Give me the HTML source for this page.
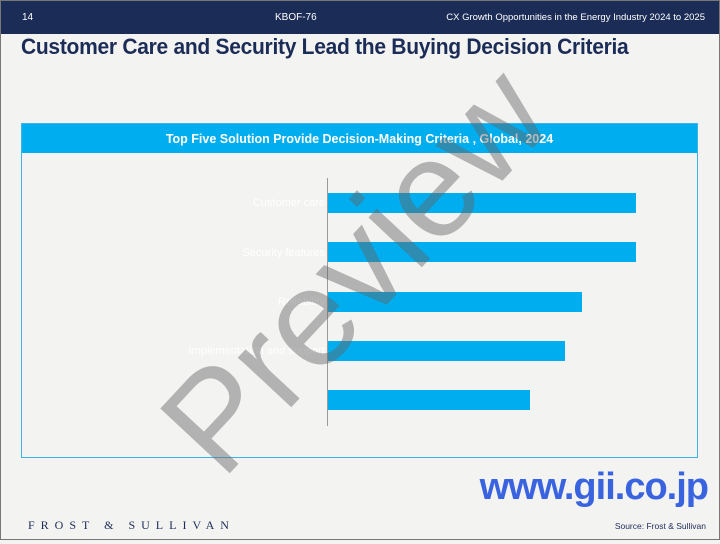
<!DOCTYPE html>
<html><head><style>
body{margin:0;width:720px;height:540px;overflow:hidden;background:#f3f3f2;font-family:"Liberation Sans",sans-serif;position:relative}
.frame{position:absolute;left:0;top:0;width:718px;height:538px;border:1px solid #777;}
.hdr{position:absolute;left:1px;top:1px;width:718px;height:33px;background:#1b2c56;color:#fff;font-size:10px}
.hdr span{position:absolute;top:11px}
h1{position:absolute;left:21px;top:34px;margin:0;font-size:22px;color:#1b2c56;font-weight:bold;letter-spacing:-0.3px;transform:scaleX(0.955);transform-origin:left}
.box{position:absolute;left:21px;top:123px;width:675px;height:333px;border:1px solid #3ab4ea}
.bh{height:29px;background:#00aeef;color:#fff;font-size:12.5px;font-weight:bold;text-align:center;line-height:30px}
.bar{position:absolute;left:328px;height:20px;background:#00aeef}
.lbl{position:absolute;right:395px;color:#fff;font-size:11px}
.wm{position:absolute;left:55px;top:190px;width:600px;height:160px;line-height:160px;font-size:138px;color:rgba(100,100,100,0.45);transform:rotate(-47deg);transform-origin:center;text-align:center}
</style></head><body>
<div class="frame"></div>
<div class="hdr"><span style="left:21px">14</span><span style="left:274px">KBOF-76</span><span style="right:14px;font-size:9.5px">CX Growth Opportunities in the Energy Industry 2024 to 2025</span></div>
<h1>Customer Care and Security Lead the Buying Decision Criteria</h1>
<div class="box"><div class="bh">Top Five Solution Provide Decision-Making Criteria , Global, 2024</div></div>
<div style="position:absolute;left:327px;top:178px;width:1px;height:248px;background:#999"></div>
<div class="bar" style="top:193px;width:308px"></div>
<div class="bar" style="top:242px;width:308px"></div>
<div class="bar" style="top:292px;width:254px"></div>
<div class="bar" style="top:341px;width:237px"></div>
<div class="bar" style="top:390px;width:202px"></div>
<div class="lbl" style="top:197px">Customer care</div>
<div class="lbl" style="top:247px">Security features</div>
<div class="lbl" style="top:296px">Reliability</div>
<div class="lbl" style="top:345px">Implementation and support</div>
<div class="wm">Preview</div>
<div style="position:absolute;right:12px;top:466px;font-size:38px;font-weight:bold;color:#3a63e0;letter-spacing:-1px">www.gii.co.jp</div>
<div style="position:absolute;left:28px;top:518px;font-family:'Liberation Serif',serif;font-size:12px;letter-spacing:6px;color:#1b2c56">FROST &amp; SULLIVAN</div>
<div style="position:absolute;right:14px;top:521px;font-size:8.5px;color:#1b2c56">Source: Frost &amp; Sullivan</div>
</body></html>
